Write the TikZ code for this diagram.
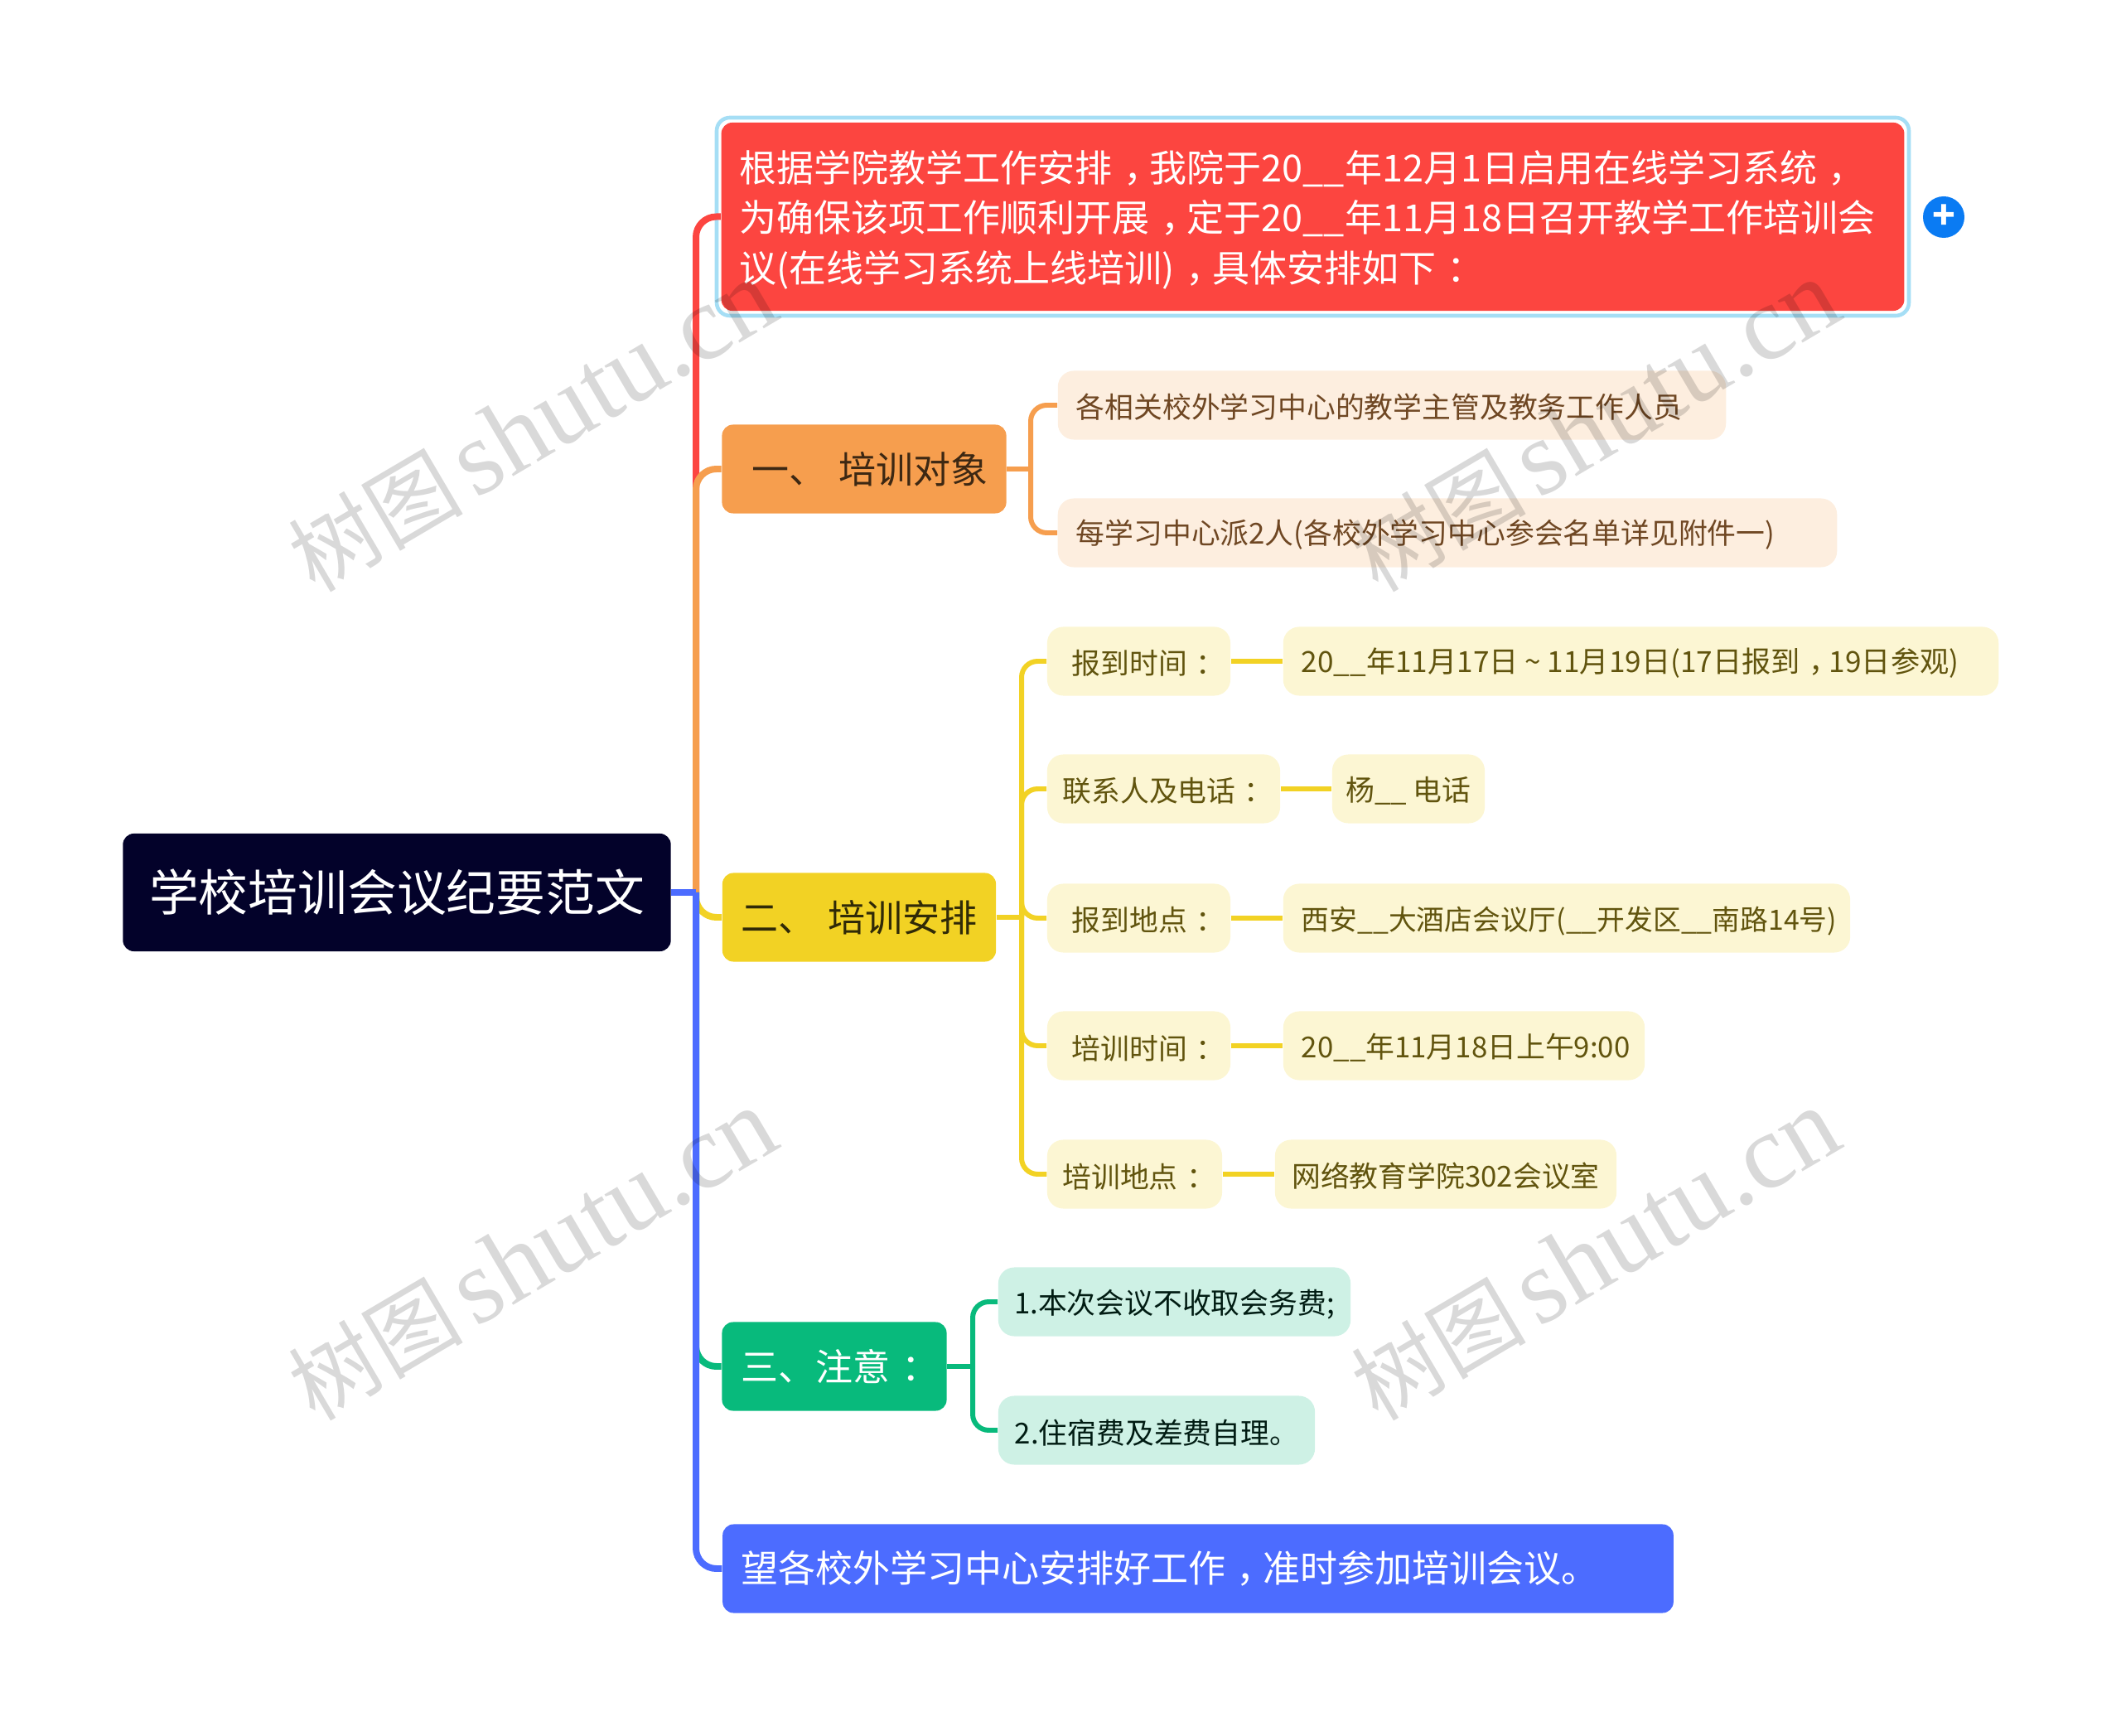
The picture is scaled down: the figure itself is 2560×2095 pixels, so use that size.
\documentclass[tikz,border=0pt]{standalone}
\usepackage{fontspec}
\setmainfont{Noto Sans CJK SC}
\newfontfamily\markfont{Liberation Serif}
\newcommand{\zp}[1]{\kern.3em #1\kern-.3em}
\definecolor{rootc}{HTML}{03022A}
\definecolor{redc}{HTML}{FC4540}
\definecolor{orangec}{HTML}{F69E4E}
\definecolor{yellowc}{HTML}{F2D224}
\definecolor{greenc}{HTML}{08BA7C}
\definecolor{bluec}{HTML}{4C6CFF}
\definecolor{frameC}{HTML}{A5DEF5}
\definecolor{plusc}{HTML}{0A7BF3}
\tikzset{
  box/.style={rectangle,rounded corners=3.8pt,inner sep=0pt},
  main/.style={box,font=\fontsize{12.8pt}{17.2pt}\selectfont},
  leaf/.style={box,rounded corners=5.5pt,minimum height=8.3mm,text height=9.9pt,font=\fontsize{9.9pt}{12pt}\selectfont},
  leafo/.style={leaf,fill=orangec!18!white,text=orangec!45!black},
  leafy/.style={leaf,fill=yellowc!20!white,text=yellowc!40!black},
  leafg/.style={leaf,fill=greenc!20!white,text=greenc!15!black},
  lefttext/.style={align=left,inner xsep=2.2mm},
  link/.style={line width=1.7pt,rounded corners=5.5pt},
  trunk/.style={line width=2.27pt,rounded corners=7pt},
  wmark/.style={rotate=30.5,text=black,text opacity=.15,inner sep=0pt}
}
\newcommand{\wmtext}{{\fontsize{30pt}{34pt}\selectfont 树图}\hspace{4pt}{\markfont\fontsize{36.5pt}{40pt}\selectfont shutu.cn}}
\begin{document}
\begin{tikzpicture}[x=0.01cm,y=-0.01cm]
        \useasboundingbox (0,0) rectangle (2560,2095);
        % centre and first level
        \draw (479,1077) node[box,fill=rootc,text=white,minimum width=66.1mm,minimum height=14.2mm,font=\fontsize{17pt}{20pt}\selectfont] (root) {学校培训会议纪要范文};
        \coordinate (hub) at (840,1077);
        \draw (1584.5,261.5) node[main,lefttext,fill=redc,text=white,text width=138.3mm,minimum height=22.7mm] (intro) {\rule{0pt}{13pt}根据学院教学工作安排\zp{，}我院于20\_\_年12月1日启用在线学习系统\zp{，}\\为确保该项工作顺利开展\zp{，}定于20\_\_年11月18日召开教学工作培训会\\议(在线学习系统上线培训)\zp{，}具体安排如下\zp{：}};
        \draw[frameC,line width=1.3pt,rounded corners=4.5pt] (865,142) rectangle (2304,381);
        \draw (2346,262) node[circle,fill=plusc,text=white,minimum size=5mm,inner sep=0pt,font=\bfseries\fontsize{13pt}{13pt}\selectfont] (plus) {+};
        \draw (1043,566) node[main,fill=orangec,text=orangec!25!black,minimum width=34.3mm,minimum height=10.7mm] (target) {\hspace{.3em}一、\hspace{.33em}培训对象};
        \draw (1037,1107) node[main,fill=yellowc,text=yellowc!20!black,minimum width=33mm,minimum height=10.7mm] (plan) {二、\hspace{.33em}培训安排};
        \draw (1007,1649) node[main,fill=greenc,text=white,minimum width=27.1mm,minimum height=10.7mm] (note) {三、注意\zp{：}};
        \draw (1446,1893) node[main,lefttext,fill=bluec,text=white,text width=110.3mm,minimum height=10.7mm] (hope) {望各校外学习中心安排好工作\zp{，}准时参加培训会议。};
        % target children
        \draw (1680,489) node[leafo,lefttext,text width=76.2mm] (tA) {各相关校外学习中心的教学主管及教务工作人员};
        \draw (1747,643) node[leafo,lefttext,text width=89.6mm] (tB) {每学习中心派2人(各校外学习中心参会名单详见附件一)};
        % plan children
        \draw (1374.5,798) node[leafy,minimum width=22.1mm] (pA) {\kern.37em 报到时间\zp{：}};
        \draw (1980.5,798) node[leafy,lefttext,text width=81.9mm,font=\fontsize{10pt}{12pt}\selectfont] (vA) {20\_\_年11月17日\makebox[1em][c]{\textasciitilde}11月19日(17日报到\zp{，}19日参观)};
        \draw (1404.5,952) node[leafy,minimum width=28.1mm] (pB) {联系人及电话\zp{：}};
        \draw (1700,952) node[leafy,minimum width=18.4mm] (vB) {杨\_\_ 电话};
        \draw (1374.5,1108) node[leafy,minimum width=22.1mm] (pC) {\kern.37em 报到地点\zp{：}};
        \draw (1891,1108) node[leafy,lefttext,text width=64mm,font=\fontsize{9.6pt}{12pt}\selectfont] (vC) {西安\_\_大酒店会议厅(\_\_开发区\_\_南路14号)};
        \draw (1374.5,1262) node[leafy,minimum width=22.1mm] (pD) {\kern.37em 培训时间\zp{：}};
        \draw (1767,1262) node[leafy,lefttext,text width=39.2mm] (vD) {20\_\_年11月18日上午9:00};
        \draw (1369.5,1417) node[leafy,minimum width=21.1mm] (pE) {培训地点\zp{：}};
        \draw (1745,1417) node[leafy,minimum width=41.2mm] (vE) {网络教育学院302会议室};
        % note children
        \draw (1417.5,1571) node[leafg,minimum width=42.5mm] (nA) {1.本次会议不收取会务费;};
        \draw (1396,1726) node[leafg,minimum width=38.2mm] (nB) {2.住宿费及差费自理。};
        % first level links
        \draw[trunk,redc] (hub) |- (intro.west);
        \draw[trunk,orangec] (hub) |- (target.west);
        \draw[trunk,yellowc] (hub) |- (plan.west);
        \draw[trunk,greenc] (hub) |- (note.west);
        \draw[trunk,bluec] (hub) |- (hope.west);
        \draw[trunk,bluec] (root.east) -- (hub);
        % second level links
        \coordinate (tJ) at (1244,566);
        \draw[link,orangec] (target.east) -- (tJ);
        \draw[link,orangec] (tJ) |- (tA.west);
        \draw[link,orangec] (tJ) |- (tB.west);
        \coordinate (pJ) at (1233,1107);
        \draw[link,yellowc] (plan.east) -- (pJ);
        \foreach \kid in {pA,pB,pC,pD,pE} \draw[link,yellowc] (pJ) |- (\kid.west);
        \draw[link,yellowc] (pA) -- (vA);
        \draw[link,yellowc] (pB) -- (vB);
        \draw[link,yellowc] (pC) -- (vC);
        \draw[link,yellowc] (pD) -- (vD);
        \draw[link,yellowc] (pE) -- (vE);
        \coordinate (nJ) at (1174,1649);
        \draw[link,greenc] (note.east) -- (nJ);
        \draw[link,greenc] (nJ) |- (nA.west);
        \draw[link,greenc] (nJ) |- (nB.west);
        % watermarks
        \draw (643,515) node[wmark] (wA) {\wmtext};
        \draw (1926,515) node[wmark] (wB) {\wmtext};
        \draw (643,1515) node[wmark] (wC) {\wmtext};
        \draw (1926,1515) node[wmark] (wD) {\wmtext};
    \end{tikzpicture}
\end{document}
